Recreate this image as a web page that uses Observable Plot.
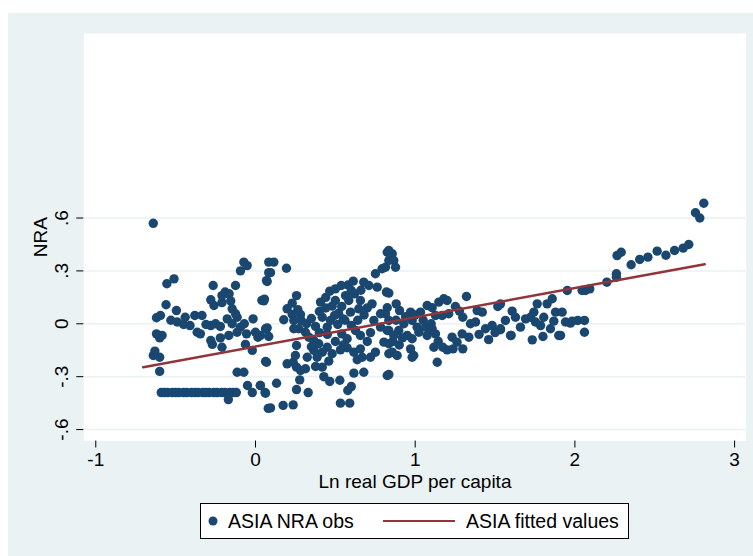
<!DOCTYPE html>
<html>
<head>
<meta charset="utf-8">
<script src="https://cdn.jsdelivr.net/npm/d3@7"></script>
<script src="https://cdn.jsdelivr.net/npm/@observablehq/plot@0.6"></script>
<style>
  body { margin: 0; background: #fff; width: 753px; height: 556px; position: relative; overflow: hidden;
         font-family: "Liberation Sans", Arial, sans-serif; }
  #bg { position: absolute; left: 8px; top: 13px; width: 745px; height: 543px; background: #eaf2f3; }
  #chart { position: absolute; left: 0; top: 0; }
  #legend { position: absolute; left: 200px; top: 503px; width: 429px; height: 36px;
            border: 1px solid #000; background: #fff; box-sizing: border-box; }
</style>
</head>
<body>
<div id="bg"></div>
<div id="chart"></div>
<div id="legend"></div>
<script>
// axis ticks
const xTicks = [-1, 0, 1, 2, 3];
const yTicks = [-0.6, -0.3, 0, 0.3, 0.6];

// ASIA NRA obs: [ln real GDP per capita, NRA]
const asiaObs = [
  // lowest incomes
  [-0.64, 0.57], [-0.60, -0.27], [-0.64, -0.18], [-0.63, -0.155], [-0.60, -0.19],
  [-0.62, -0.057], [-0.585, -0.066], [-0.60, -0.08], [-0.62, 0.034], [-0.595, 0.047],
  [-0.56, 0.108], [-0.555, 0.227], [-0.51, 0.255], [-0.53, 0.02], [-0.495, 0.075],
  // the row at -.39
  [-0.59, -0.39], [-0.57, -0.39], [-0.55, -0.39], [-0.52, -0.39], [-0.50, -0.39],
  [-0.48, -0.39], [-0.45, -0.39], [-0.43, -0.39], [-0.40, -0.39], [-0.38, -0.39],
  [-0.36, -0.39], [-0.33, -0.39], [-0.31, -0.39], [-0.29, -0.39], [-0.26, -0.39],
  [-0.24, -0.39], [-0.21, -0.39], [-0.19, -0.39], [-0.16, -0.39], [-0.14, -0.39],
  [-0.12, -0.39], [-0.17, -0.43],
  [-0.05, -0.35], [-0.02, -0.39], [0.03, -0.35], [0.06, -0.39], [0.08, -0.48],
  // -0.5 .. 0.1
  [-0.49, 0.01], [-0.45, -0.004], [-0.44, 0.037], [-0.41, -0.01], [-0.38, 0.047],
  [-0.365, -0.048], [-0.345, -0.057], [-0.335, 0.047], [-0.31, -0.004], [-0.28, -0.01],
  [-0.25, 0.0], [-0.22, -0.015], [-0.265, 0.217], [-0.28, 0.136], [-0.26, 0.104],
  [-0.21, 0.16], [-0.19, 0.18], [-0.165, 0.17], [-0.155, 0.13], [-0.21, 0.12],
  [-0.146, 0.085], [-0.125, 0.057], [-0.115, 0.037], [-0.125, 0.217],
  [-0.094, 0.30], [-0.073, 0.35], [-0.052, 0.33], [-0.177, 0.028], [-0.146, 0.0],
  [-0.28, -0.095], [-0.27, -0.117], [-0.22, -0.08], [-0.21, -0.133], [-0.167, -0.066],
  [-0.115, -0.048], [-0.094, -0.019], [-0.07, 0.0], [-0.056, -0.057], [-0.015, 0.028],
  [0.0, -0.048], [0.015, -0.076], [-0.02, -0.151], [-0.063, -0.117],
  [0.04, 0.133], [0.056, 0.14], [0.083, 0.35], [0.083, 0.29], [0.069, 0.245],
  [0.069, -0.218], [-0.115, -0.275], [-0.073, -0.275], [0.063, -0.028],
  // 0.05 .. 0.85
  [0.115, 0.35], [0.094, 0.29], [0.073, 0.24], [0.194, 0.315], [0.052, 0.13],
  [0.073, -0.023], [0.083, -0.072], [0.031, -0.066], [0.063, -0.214],
  [0.031, -0.35], [0.063, -0.394], [0.132, -0.337], [0.094, -0.477], [0.173, -0.463],
  [0.236, -0.46], [0.257, -0.373], [0.33, -0.39],
  [0.532, -0.45], [0.59, -0.45], [0.578, -0.378], [0.60, -0.356], [0.528, -0.32],
  [0.465, -0.327], [0.428, -0.30], [0.418, -0.246], [0.376, -0.242], [0.459, -0.212],
  [0.277, -0.318], [0.257, -0.246], [0.282, -0.265], [0.198, -0.227], [0.236, -0.218],
  [0.313, -0.255], [0.25, -0.18], [0.257, -0.123], [0.177, 0.023], [0.198, 0.085],
  [0.23, 0.117], [0.257, 0.16], [0.265, 0.08], [0.282, 0.053], [0.23, 0.053],
  [0.24, 0.019], [0.286, 0.019], [0.24, -0.028], [0.271, -0.028], [0.313, -0.048],
  [0.334, -0.076], [0.365, -0.095], [0.396, -0.113], [0.365, -0.151], [0.418, -0.161],
  [0.449, -0.133], [0.324, -0.19], [0.386, -0.19], [0.407, 0.123],
  [0.376, -0.015], [0.418, 0.037], [0.449, -0.019], [0.47, 0.019], [0.495, 0.047],
  [0.515, -0.004], [0.549, 0.028], [0.32, 0.0], [0.35, 0.03], [0.40, 0.07],
  [0.44, 0.09], [0.48, 0.10], [0.52, 0.06], [0.56, 0.02], [0.60, -0.01],
  [0.64, 0.02], [0.68, 0.05], [0.70, 0.09], [0.72, -0.05], [0.70, -0.10],
  [0.45, -0.06], [0.50, -0.10], [0.55, -0.12], [0.48, -0.17], [0.40, -0.05],
  [0.35, -0.13], [0.62, 0.17], [0.66, 0.19], [0.44, 0.15], [0.58, 0.22],
  [0.465, 0.185], [0.50, 0.198], [0.537, 0.217], [0.564, 0.16], [0.50, 0.132],
  [0.54, 0.098], [0.584, 0.132], [0.612, 0.242], [0.60, 0.189],
  [0.657, 0.132], [0.647, 0.085], [0.595, 0.066], [0.626, -0.038], [0.657, -0.066],
  [0.574, -0.085], [0.54, -0.057], [0.574, -0.136], [0.532, -0.148], [0.616, -0.161],
  [0.657, -0.142], [0.637, -0.204], [0.668, -0.19], [0.616, -0.28], [0.678, -0.275],
  [0.72, -0.19], [0.751, -0.161],
  [0.678, 0.236], [0.71, 0.217], [0.751, 0.284], [0.762, 0.208], [0.793, 0.312],
  [0.825, 0.406], [0.835, 0.359], [0.82, 0.18], [0.825, 0.091], [0.783, 0.057],
  [0.73, 0.113], [0.741, 0.019], [0.783, -0.019], [0.825, -0.038], [0.804, -0.104],
  [0.835, -0.17], [0.825, -0.293],
  // 0.8 .. 1.6
  [0.835, 0.416], [0.856, 0.397], [0.866, 0.359], [0.877, 0.321], [0.814, 0.321],
  [0.835, 0.174], [0.881, 0.113], [0.902, 0.075], [0.814, 0.057], [0.835, 0.019],
  [0.835, -0.038], [0.866, -0.066], [0.897, -0.038], [0.929, 0.0], [0.971, 0.066],
  [0.981, 0.019], [0.95, -0.066], [0.981, -0.085], [1.023, -0.048], [1.012, -0.019],
  [0.835, -0.113], [0.856, -0.161], [0.887, -0.18], [0.971, -0.142], [0.991, -0.18],
  [0.835, -0.288], [0.86, -0.10], [0.90, -0.12], [0.92, -0.08], [0.88, 0.02],
  [0.94, 0.04], [1.0, 0.05], [1.05, 0.02], [1.1, 0.0],
  [1.033, 0.066], [1.075, 0.104], [1.106, 0.091], [1.148, 0.123], [1.179, 0.142],
  [1.20, 0.132], [1.127, 0.047], [1.169, 0.047], [1.21, 0.057], [1.252, 0.098],
  [1.277, 0.072], [1.298, 0.037], [1.321, 0.155], [1.346, 0.0], [1.378, 0.01],
  [1.388, 0.075], [1.42, 0.066], [1.44, -0.028], [1.482, -0.01], [1.517, 0.098],
  [1.534, -0.028], [1.565, 0.019], [1.597, -0.066], [1.607, 0.072],
  [1.065, -0.019], [1.075, -0.066], [1.106, -0.028], [1.127, -0.057], [1.117, -0.133],
  [1.144, -0.099], [1.173, -0.133], [1.20, -0.148], [1.231, -0.076], [1.237, -0.142],
  [1.262, -0.104], [1.294, -0.057], [1.298, -0.142], [1.336, -0.076], [1.138, -0.218],
  [0.981, -0.19], [1.40, -0.06], [1.46, -0.09], [1.50, -0.05],
  // 1.5 .. 2.1
  [1.534, 0.113], [1.534, -0.034], [1.601, -0.066], [1.628, 0.037], [1.659, -0.019],
  [1.691, 0.028], [1.722, 0.037], [1.743, 0.066], [1.764, 0.113], [1.753, 0.01],
  [1.785, -0.01], [1.805, 0.037], [1.80, -0.072], [1.733, -0.091], [1.826, 0.113],
  [1.858, 0.142], [1.847, -0.028], [1.868, 0.015], [1.879, 0.066], [1.899, -0.066],
  [1.941, 0.01], [1.983, 0.015], [2.018, 0.019], [2.06, 0.019], [2.06, -0.048],
  [1.952, 0.189], [2.045, 0.189], [2.066, 0.189], [2.093, 0.198], [1.91, -0.066],
  [1.92, 0.066], [1.972, 0.004],
  // richest
  [2.20, 0.236], [2.26, 0.284], [2.26, 0.264], [2.264, 0.387], [2.29, 0.406],
  [2.352, 0.335], [2.406, 0.365], [2.457, 0.378], [2.515, 0.412], [2.57, 0.389],
  [2.624, 0.416], [2.678, 0.429], [2.713, 0.45], [2.755, 0.63], [2.782, 0.60],
  [2.807, 0.684]
];

// ASIA fitted values (ends of the line)
const asiaFit = [[-0.703, -0.246], [2.813, 0.338]];

const navy = "#1a476f";
const maroon = "#90353b";
const fmtY = d => d === 0 ? "0" : String(d).replace("0.", ".");

const chart = Plot.plot({
  width: 753,
  height: 500,
  marginLeft: 83.3,
  marginRight: 7.3,
  marginTop: 33,
  marginBottom: 59.5,
  style: {background: "transparent", fontFamily: "Liberation Sans, Arial, sans-serif", fontSize: "19px", color: "#000"},
  x: {domain: [-1.075, 3.0726]},
  y: {domain: [-0.6648, 1.6466]},
  marks: [
    Plot.frame({fill: "white", stroke: null}),
    Plot.gridY(yTicks, {stroke: "#eaf2f3", strokeOpacity: 1, strokeWidth: 1.5}),
    Plot.dot(asiaObs, {x: d => d[0], y: d => d[1], r: 4.7, fill: navy}),
    Plot.line(asiaFit, {x: d => d[0], y: d => d[1], stroke: maroon, strokeWidth: 2.5}),
    Plot.axisX(xTicks, {tickSize: 7, tickPadding: 4, line: true, tickFormat: d => String(d),
      label: "Ln real GDP per capita", labelAnchor: "center", labelArrow: "none", labelOffset: 47}),
    Plot.axisY(yTicks, {tickSize: 7, line: true, tickFormat: () => "",
      label: "NRA", labelAnchor: "center", labelArrow: "none", labelOffset: 50}),
    // vertical tick labels, Stata style
    Plot.text(yTicks, {y: d => d, text: fmtY, frameAnchor: "left", dx: -21.8, rotate: -90,
      textAnchor: "middle", lineAnchor: "middle", fill: "#000"})
  ]
});
document.querySelector("#chart").append(chart);

// legend below the plot
const leg = d3.select("#legend").append("svg").attr("width", 427).attr("height", 34)
  .style("font-family", "Liberation Sans, Arial, sans-serif").style("font-size", "19.5px");
leg.append("circle").attr("cx", 12).attr("cy", 17).attr("r", 4.5).attr("fill", navy);
leg.append("text").attr("x", 27).attr("y", 24).text("ASIA NRA obs");
leg.append("line").attr("x1", 182).attr("x2", 254).attr("y1", 17).attr("y2", 17)
  .attr("stroke", maroon).attr("stroke-width", 2);
leg.append("text").attr("x", 265).attr("y", 24).text("ASIA fitted values");
</script>
</body>
</html>
